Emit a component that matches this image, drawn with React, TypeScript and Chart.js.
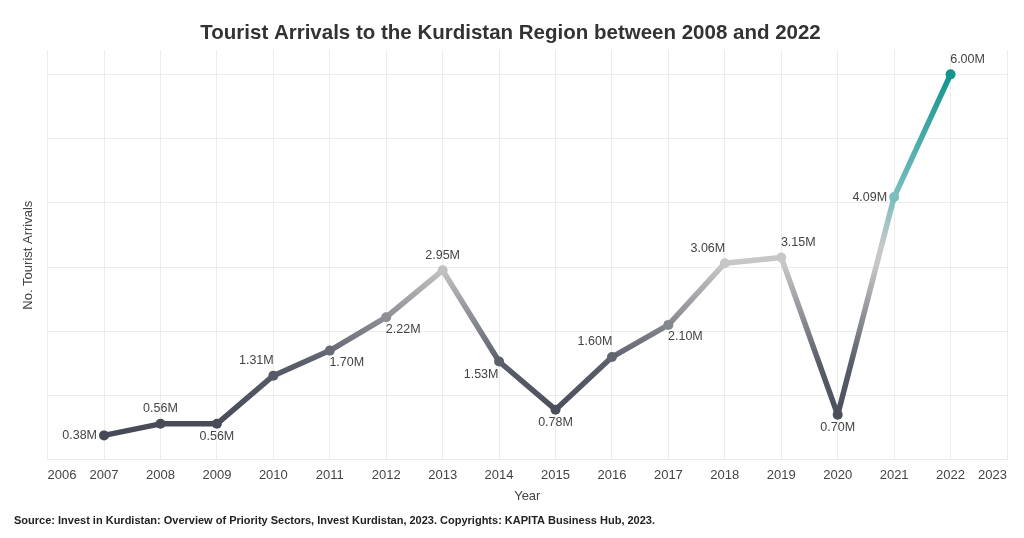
import React, { useEffect, useRef } from "react";
import { Chart, registerables } from "chart.js";

Chart.register(...registerables);

const years = [2007, 2008, 2009, 2010, 2011, 2012, 2013, 2014, 2015, 2016, 2017, 2018, 2019, 2020, 2021, 2022];
const arrivals = [0.38, 0.56, 0.56, 1.31, 1.7, 2.22, 2.95, 1.53, 0.78, 1.6, 2.1, 3.06, 3.15, 0.7, 4.09, 6.0];
const labelPlacement = [
  "left", "top", "bottom", "top-left", "bottom-right", "bottom-right", "top", "bottom-left",
  "bottom", "top-left", "bottom-right", "top-left", "top-right", "bottom", "left", "top-right",
];
const xMin = 2006;
const xMax = 2023;

const TITLE = "Tourist Arrivals to the Kurdistan Region between 2008 and 2022";
const SOURCE = "Source: Invest in Kurdistan: Overview of Priority Sectors, Invest Kurdistan, 2023. Copyrights: KAPITA Business Hub, 2023.";
const FONT = "'Liberation Sans', Arial, sans-serif";

const stops: [number, number[]][] = [
  [0, [0x44, 0x49, 0x55]],
  [0.2, [0x5a, 0x5e, 0x6a]],
  [0.47, [0xc6, 0xc6, 0xc6]],
  [0.52, [0xc8, 0xc8, 0xc8]],
  [0.66, [0x7a, 0xbf, 0xbe]],
  [1, [0x14, 0x95, 0x90]],
];

function colorAt(t: number): string {
  t = Math.max(0, Math.min(1, t));
  for (let i = 0; i < stops.length - 1; i++) {
    const [a, ca] = stops[i];
    const [b, cb] = stops[i + 1];
    if (t <= b) {
      const f = (t - a) / (b - a);
      const c = ca.map((v, k) => Math.round(v + (cb[k] - v) * f));
      return `rgb(${c[0]},${c[1]},${c[2]})`;
    }
  }
  const c = stops[stops.length - 1][1];
  return `rgb(${c[0]},${c[1]},${c[2]})`;
}

const vMin = Math.min(...arrivals);
const vMax = Math.max(...arrivals);
const norm = (v: number) => (v - vMin) / (vMax - vMin);

const offsets: Record<string, [number, number, CanvasTextAlign]> = {
  left: [-7, 0, "right"],
  top: [0, -15, "center"],
  bottom: [0, 13, "center"],
  "top-left": [-17, -15, "center"],
  "top-right": [17, -15, "center"],
  "bottom-left": [-18, 13, "center"],
  "bottom-right": [17, 12, "center"],
};

const labelPlugin = {
  id: "pointLabels",
  afterDatasetsDraw(chart: any) {
    const meta = chart.getDatasetMeta(0);
    const ctx = chart.ctx;
    ctx.save();
    ctx.font = `12.5px ${FONT}`;
    ctx.fillStyle = "#444444";
    ctx.textBaseline = "middle";
    meta.data.forEach((pt: any, i: number) => {
      const [dx, dy, align] = offsets[labelPlacement[i]];
      ctx.textAlign = align;
      ctx.fillText(arrivals[i].toFixed(2) + "M", pt.x + dx, pt.y + dy);
    });
    ctx.restore();
  },
};

const sourcePlugin = {
  id: "sourceNote",
  afterDraw(chart: any) {
    const ctx = chart.ctx;
    ctx.save();
    ctx.font = `bold 11px ${FONT}`;
    ctx.fillStyle = "#222222";
    ctx.textAlign = "left";
    ctx.textBaseline = "middle";
    ctx.fillText(SOURCE, 14, 521);
    ctx.restore();
  },
};

export default function App() {
  const ref = useRef<HTMLCanvasElement>(null);

  useEffect(() => {
    if (!ref.current) return;
    const chart = new Chart(ref.current, {
      type: "line",
      data: {
        datasets: [
          {
            data: years.map((y, i) => ({ x: y, y: arrivals[i] })),
            borderWidth: 5.5,
            borderColor: (context: any) => {
              const c = context.chart;
              const { chartArea, scales } = c;
              if (!chartArea) return "#888";
              const y0 = scales.y.getPixelForValue(vMin);
              const y1 = scales.y.getPixelForValue(vMax);
              const g = c.ctx.createLinearGradient(0, y0, 0, y1);
              stops.forEach(([s]) => g.addColorStop(s, colorAt(s)));
              return g;
            },
            pointBackgroundColor: arrivals.map((v) => colorAt(norm(v))),
            pointBorderColor: arrivals.map((v) => colorAt(norm(v))),
            pointRadius: 5,
            pointBorderWidth: 0,
            tension: 0,
            borderJoinStyle: "round",
            borderCapStyle: "round",
          },
        ],
      },
      options: {
        animation: false,
        responsive: true,
        maintainAspectRatio: false,
        layout: { padding: { left: 14, right: 17, top: 0, bottom: 30 } },
        plugins: {
          legend: { display: false },
          tooltip: { enabled: false },
          title: {
            display: true,
            text: TITLE,
            color: "#333333",
            font: { family: FONT, size: 20.5, weight: "bold" },
            padding: { top: 21, bottom: 5 },
          },
        },
        scales: {
          x: {
            type: "linear",
            min: xMin,
            max: xMax,
            grid: { color: "#ececec", drawTicks: false },
            border: { display: false },
            ticks: {
              stepSize: 1,
              align: "inner",
              padding: 8,
              color: "#444444",
              font: { family: FONT, size: 13 },
              callback: (v: any) => String(v),
            },
            title: {
              display: true,
              text: "Year",
              color: "#444444",
              font: { family: FONT, size: 13 },
              padding: { top: -3, bottom: 4 },
            },
          },
          y: {
            min: 0,
            max: 6.37,
            grid: { color: "#ececec", drawTicks: false },
            border: { display: false },
            ticks: { display: false, stepSize: 1 },
            afterBuildTicks: (axis: any) => {
              axis.ticks = [0, 1, 2, 3, 4, 5, 6].map((v) => ({ value: v }));
            },
            title: {
              display: true,
              text: "No. Tourist Arrivals",
              color: "#444444",
              font: { family: FONT, size: 13 },
              padding: { top: 7, bottom: 11 },
            },
          },
        },
      },
      plugins: [labelPlugin, sourcePlugin],
    });
    return () => chart.destroy();
  }, []);

  return (
    <div style={{ position: "absolute", left: 0, top: 0, width: 1024, height: 538, background: "#fff" }}>
      <canvas ref={ref} />
    </div>
  );
}
